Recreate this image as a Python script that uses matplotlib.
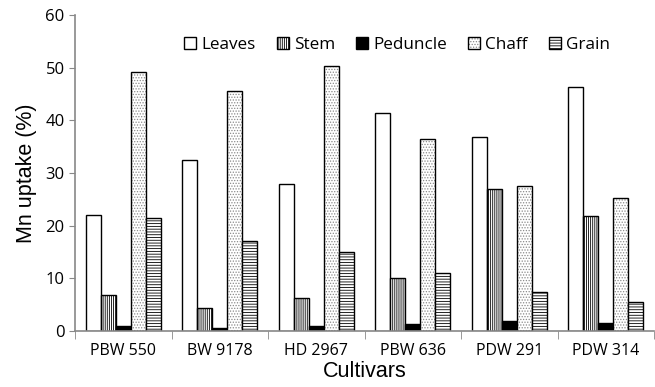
import matplotlib
matplotlib.use("Agg")
import matplotlib.pyplot as plt
import numpy as np

cultivars = ["PBW 550", "BW 9178", "HD 2967", "PBW 636", "PDW 291", "PDW 314"]
parts = ["Leaves", "Stem", "Peduncle", "Chaff", "Grain"]

leaves = [22.0, 32.5, 28.0, 41.4, 36.9, 46.3]
stem = [6.8, 4.3, 6.3, 10.1, 26.9, 21.9]
peduncle = [0.9, 0.6, 0.9, 1.4, 1.8, 1.5]
chaff = [49.2, 45.6, 50.3, 36.4, 27.5, 25.2]
grain = [21.4, 17.0, 15.0, 11.0, 7.4, 5.5]

series = [leaves, stem, peduncle, chaff, grain]
faces = ["white", "white", "black", "white", "white"]
hatches = [None, "||||||||", None, "......", "------"]
hatch_cols = ["black", "black", "black", "#8a8a8a", "black"]

plt.rcParams['hatch.linewidth'] = 0.6

fig = plt.figure(figsize=(6.55, 3.87), dpi=100)
ax = fig.add_axes([0.1145, 0.145, 0.884, 0.816])

x = np.arange(len(cultivars))
w = 0.155
handles = []
for i, (vals, fc, h, hc) in enumerate(zip(series, faces, hatches, hatch_cols)):
    # hatch layer first (its colour comes from edgecolor), then a black outline on top
    fill = ax.bar(x + (i - 2) * w, vals, w, color=fc, edgecolor=hc,
                  hatch=h, linewidth=0)
    edge = ax.bar(x + (i - 2) * w, vals, w, fill=False, edgecolor="black",
                  linewidth=1.0)
    handles.append((fill, edge))

ax.set_xlim(-0.5, len(cultivars) - 0.5)
ax.set_ylim(0, 60)
ax.set_yticks(range(0, 61, 10))
ax.set_xticks(x)
ax.set_xticklabels(cultivars, fontsize=11.5, family="Open Sans")
ax.set_xticks(np.arange(-0.5, len(cultivars), 1), minor=True)
ax.tick_params(axis="x", which="major", length=0, pad=9)
ax.tick_params(axis="x", which="minor", length=6, color="#888888")
ax.tick_params(axis="y", length=4, color="#888888", labelsize=12)
for lab in ax.get_yticklabels():
    lab.set_family("Open Sans")

for s in ["top", "right"]:
    ax.spines[s].set_visible(False)
for s in ["left", "bottom"]:
    ax.spines[s].set_color("#888888")
    ax.spines[s].set_linewidth(1.2)

ax.set_ylabel("Mn uptake (%)", fontsize=15.5, family="Liberation Sans", labelpad=6)
ax.set_xlabel("Cultivars", fontsize=15.5, family="Liberation Sans", labelpad=1)

ax.legend(handles, parts, ncol=5, loc="center", bbox_to_anchor=(0.556, 0.905),
          frameon=False, prop={"family": "Open Sans", "size": 12.3},
          handlelength=0.7, handleheight=0.7, handletextpad=0.3,
          columnspacing=1.24)

fig.savefig("out.png", dpi=100)
